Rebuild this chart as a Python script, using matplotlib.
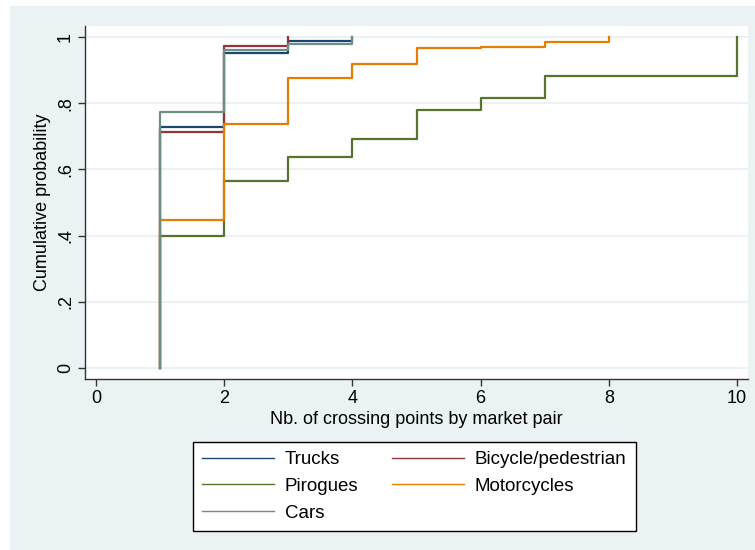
import matplotlib.pyplot as plt
from matplotlib.patches import Rectangle

plt.rcParams['font.family'] = ['Liberation Sans', 'DejaVu Sans']

# cumulative distribution of crossing points by mode (step values)
trucks_x = [1, 1, 2, 3, 4]
trucks_y = [0, 0.727, 0.951, 0.988, 1.0]
bicycle_x = [1, 1, 2, 3]
bicycle_y = [0, 0.713, 0.974, 1.0]
pirogues_x = [1, 1, 2, 3, 4, 5, 6, 7, 10]
pirogues_y = [0, 0.398, 0.566, 0.638, 0.691, 0.780, 0.817, 0.882, 1.0]
motos_x = [1, 1, 2, 3, 4, 5, 6, 7, 8]
motos_y = [0, 0.446, 0.736, 0.876, 0.919, 0.966, 0.970, 0.984, 1.0]
cars_x = [1, 1, 2, 3, 4]
cars_y = [0, 0.774, 0.961, 0.980, 1.0]

series = [
    ('Trucks', trucks_x, trucks_y, '#1a476f'),
    ('Bicycle/pedestrian', bicycle_x, bicycle_y, '#90353b'),
    ('Pirogues', pirogues_x, pirogues_y, '#55752f'),
    ('Motorcycles', motos_x, motos_y, '#e37e00'),
    ('Cars', cars_x, cars_y, '#6e8e84'),
]

fig = plt.figure(figsize=(7.55, 5.5), dpi=100)
fig.patch.set_facecolor('white')
fig.patches.append(Rectangle((10 / 755, 0), 1 - 10 / 755, 544 / 550,
                             transform=fig.transFigure, facecolor='#eaf2f3',
                             edgecolor='none', zorder=-5))

ax = fig.add_axes([85 / 755, 1 - 379 / 550, (748 - 85) / 755, (379 - 26) / 550])
ax.set_zorder(2)
ax.set_facecolor('white')

handles = []
for name, xs, ys, col in series:
    ax.plot(xs, ys, drawstyle='steps-post', color=col, lw=1.6, zorder=3)
    h, = ax.plot([], [], color=col, lw=1.0, label=name)
    handles.append(h)

ax.set_xlim(-11 / 64.1, 10 + 11 / 64.1)
ax.set_ylim(-11 / 331, 1 + 11 / 331)
ax.set_xticks([0, 2, 4, 6, 8, 10])
ax.set_yticks([0, 0.2, 0.4, 0.6, 0.8, 1.0])
ax.set_yticklabels(['0', '.2', '.4', '.6', '.8', '1'], rotation=90, va='center')
ax.tick_params(direction='out', length=5, width=1, color='#333333',
               labelsize=13, pad=3)
ax.yaxis.grid(True, color='#eaf2f3', lw=1.5)
ax.set_axisbelow(True)
for s in ['top', 'right']:
    ax.spines[s].set_visible(False)
for s in ['left', 'bottom']:
    ax.spines[s].set_color('#333333')
    ax.spines[s].set_linewidth(1.0)

ax.set_xlabel('Nb. of crossing points by market pair', fontsize=13, labelpad=3)
ax.set_ylabel('Cumulative probability', fontsize=13, labelpad=4)

# legend order: Trucks, Bicycle, Pirogues, Motorcycles, Cars (2 columns, row-wise)
order = [0, 2, 4, 1, 3]
leg = fig.legend([handles[i] for i in order], [series[i][0] for i in order],
                 loc='upper left', bbox_to_anchor=(193 / 755, 1 - 442 / 550),
                 ncol=2, fontsize=13.5, frameon=True, fancybox=False,
                 edgecolor='black', facecolor='white', framealpha=1,
                 handlelength=3.8, handletextpad=0.6, columnspacing=1.8,
                 labelspacing=0.5, borderpad=0.5, borderaxespad=0)
leg.get_frame().set_linewidth(1.0)

fig.savefig('out.png', dpi=100)
